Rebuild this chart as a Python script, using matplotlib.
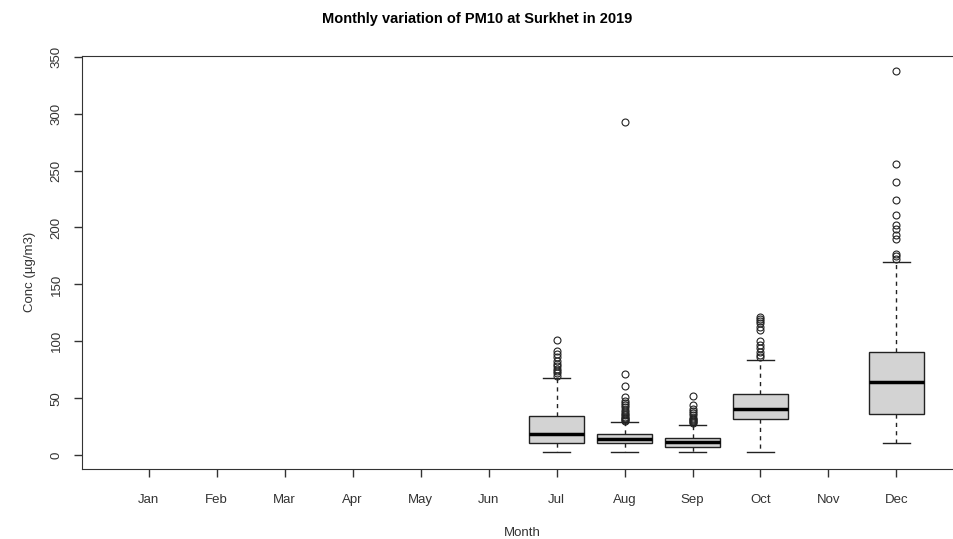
import numpy as np
import matplotlib.pyplot as plt

plt.rcParams['font.family'] = ['Liberation Sans', 'DejaVu Sans']

# --- data (only months with data have a box)
months = ['Jan', 'Feb', 'Mar', 'Apr', 'May', 'Jun',
          'Jul', 'Aug', 'Sep', 'Oct', 'Nov', 'Dec']
box_months = ['Jul', 'Aug', 'Sep', 'Oct', 'Dec']
q1 = [10.8, 10.8, 7.3, 32, 36.5]
med = [19, 14.3, 11.4, 41, 64]
q3 = [34.5, 18.7, 15.4, 54, 90.6]
wlo = [2.6, 2.6, 2.6, 2.6, 10.8]
whi = [68, 29, 27, 84, 170]
fliers = [
    [70, 72, 74, 76, 78, 80, 83, 86, 89, 91.5, 101],
    [30, 31, 32, 33, 34, 35, 36, 38, 40, 42, 44, 46, 48, 51, 61, 71, 293],
    [28, 29, 30, 31, 32, 33, 35, 37, 39, 41, 44, 52],
    [86, 88, 91, 94, 97, 100, 110, 113, 116, 118, 120, 121],
    [172, 175, 177, 190, 193, 199, 202, 211, 224, 240, 256, 337],
]

stats = []
for i in range(len(box_months)):
    stats.append(dict(med=med[i], q1=q1[i], q3=q3[i], whislo=wlo[i],
                      whishi=whi[i], fliers=fliers[i]))
positions = [months.index(m) + 1 for m in box_months]

fig = plt.figure(figsize=(9.54, 5.39), dpi=100)
ax = fig.add_axes([0.086, 0.130, 0.9235, 0.766])

ax.bxp(stats, positions=positions, widths=0.8, patch_artist=True,
       boxprops=dict(facecolor='#d3d3d3', edgecolor='#222222', linewidth=1),
       medianprops=dict(color='black', linewidth=2.5),
       whiskerprops=dict(color='#222222', linestyle=(0, (3, 3)), linewidth=1),
       capprops=dict(color='#222222', linewidth=1),
       capwidths=0.4,
       flierprops=dict(marker='o', markerfacecolor='none', markeredgecolor='#222222',
                       markersize=5, markeredgewidth=0.8))

ax.set_xlim(0.02, 12.98)
ax.set_ylim(-12, 350.5)
ax.set_xticks(range(1, 13))
ax.set_xticklabels(months)
ax.set_yticks(range(0, 351, 50))
ax.set_yticklabels([str(v) for v in range(0, 351, 50)], rotation=90, va='center')
ax.tick_params(axis='both', labelsize=9.5, colors='#333333', length=6, width=1)
ax.tick_params(axis='x', pad=12)
ax.tick_params(axis='y', pad=8)
for s in ax.spines.values():
    s.set_color('#333333')
ax.spines['right'].set_visible(False)

fig.text(0.5, 0.965, 'Monthly variation of PM10 at Surkhet in 2019',
         ha='center', va='center', fontsize=10.5, fontweight='bold')
fig.text(0.547, 0.011, 'Month', ha='center', va='center', fontsize=9.5, color='#333333')
fig.text(0.031, 0.495, 'Conc (\u00b5g/m3)', ha='center', va='center',
         rotation=90, fontsize=9.5, color='#333333')

fig.savefig('out.png', dpi=100)
